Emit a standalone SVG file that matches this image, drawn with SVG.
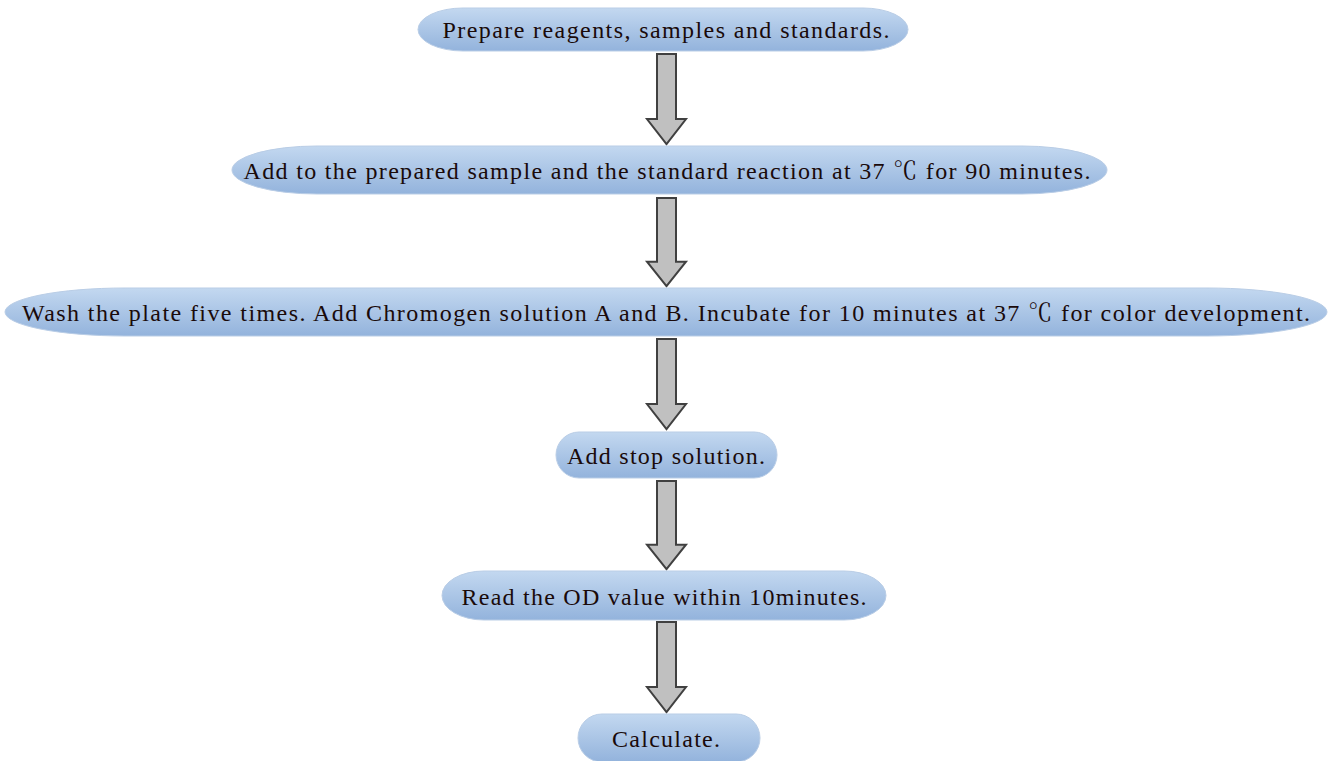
<svg xmlns="http://www.w3.org/2000/svg" width="1332" height="761" viewBox="0 0 1332 761">
<defs>
<linearGradient id="g" x1="0" y1="0" x2="0" y2="1">
<stop offset="0" stop-color="#c3d8f0"/>
<stop offset="1" stop-color="#93b3dc"/>
</linearGradient>
<path id="arr" d="M-9.5,0 H9.5 V65 H19.5 L0,90 L-19.5,65 H-9.5 Z"/>
</defs>
<style>
.n{fill:url(#g);stroke:#b9cde6;stroke-width:1}
.t{font-family:"Liberation Serif","Noto Serif CJK SC","Noto Sans CJK SC",serif;font-size:24px;fill:#1a0a0a;text-anchor:middle}
.a{fill:#c0c0c0;stroke:#404040;stroke-width:2;stroke-linejoin:miter}
</style>
<rect width="1332" height="761" fill="#ffffff"/>
<g id="connectors">
<use href="#arr" class="a" transform="translate(666.5,54)"/>
<use href="#arr" class="a" transform="translate(666.5,198) scale(1,0.98)"/>
<use href="#arr" class="a" transform="translate(666.5,339)"/>
<use href="#arr" class="a" transform="translate(666.5,481) scale(1,0.98)"/>
<use href="#arr" class="a" transform="translate(666.5,622)"/>
</g>
<g id="n1">
<rect class="n" x="418" y="8" width="490" height="43" rx="45" ry="21.5"/>
<text class="t" x="666" y="37.5" textLength="447" lengthAdjust="spacing">Prepare reagents, samples and standards.</text>
</g>
<g id="n2">
<rect class="n" x="232" y="146" width="875" height="48" rx="85" ry="24"/>
<text class="t" x="667" y="178.5" textLength="847" lengthAdjust="spacing">Add to the prepared sample and the standard reaction at 37 ℃ for 90 minutes.</text>
</g>
<g id="n3">
<rect class="n" x="5" y="288" width="1322" height="48" rx="120" ry="24"/>
<text class="t" x="666" y="320.5" textLength="1288" lengthAdjust="spacing">Wash the plate five times. Add Chromogen solution A and B. Incubate for 10 minutes at 37 ℃ for color development.</text>
</g>
<g id="n4">
<rect class="n" x="556" y="432" width="221" height="46" rx="23" ry="23"/>
<text class="t" x="666" y="463.5" textLength="198" lengthAdjust="spacing">Add stop solution.</text>
</g>
<g id="n5">
<rect class="n" x="442" y="571" width="444" height="49" rx="42" ry="24.5"/>
<text class="t" x="664" y="604.5" textLength="405" lengthAdjust="spacing">Read the OD value within 10minutes.</text>
</g>
<g id="n6">
<rect class="n" x="578" y="714" width="182" height="48" rx="24" ry="24"/>
<text class="t" x="666" y="746.5" textLength="108" lengthAdjust="spacing">Calculate.</text>
</g>
</svg>
